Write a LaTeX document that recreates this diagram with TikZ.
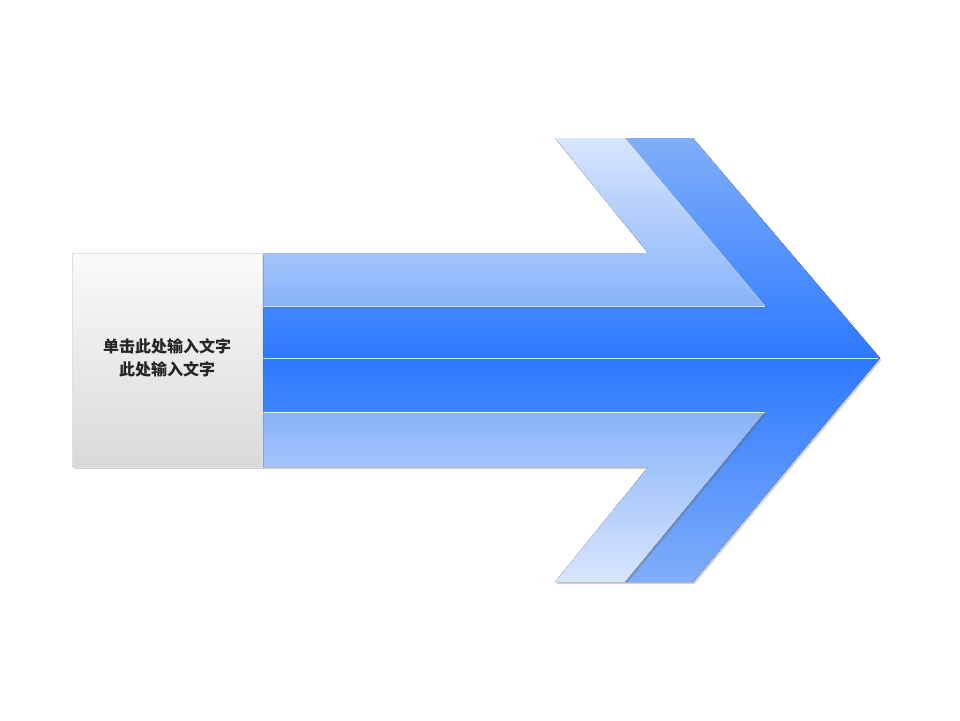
\documentclass[tikz,border=0pt]{standalone}
\usepackage{fontspec}
\newfontfamily\cjk{Noto Sans CJK SC}
\usetikzlibrary{shadows}
\definecolor{midblue}{HTML}{2C79FF}
\definecolor{edgeblue}{HTML}{80AEF8}
\definecolor{lightA}{HTML}{D8E6FD}
\definecolor{lightB}{HTML}{88B3F9}
\definecolor{grayA}{HTML}{FAFAFA}
\definecolor{grayB}{HTML}{D9D9D9}
\tikzset{
  x=1pt,y=-1pt,
  shadowed/.style={drop shadow={shadow xshift=1.5pt,shadow yshift=-2pt,opacity=0.3,fill=black!60}},
  hl/.style={draw=white,line width=0.7pt,opacity=0.8},
}
\begin{document}
\begin{tikzpicture}
\useasboundingbox (0,0) rectangle (960,720);
% dark back arrow
\fill[top color=edgeblue,bottom color=edgeblue,middle color=midblue,shadowed]
  (262,306) -- (765,306) -- (625,138) -- (693,138) -- (880,358) -- (693,582) -- (625,582) -- (765,412) -- (262,412) -- cycle;
\draw[hl] (262,358) -- (878,358);
% upper light part
\fill[top color=lightA,bottom color=lightB,shadowed]
  (262,253) -- (648,253) -- (555,138) -- (625,138) -- (765,306) -- (262,306) -- cycle;
\draw[hl] (765,306) -- (262,306);
\draw[white,opacity=0.6,line width=0.5pt] (625,138) -- (765,306);
% lower light part
\fill[top color=lightB,bottom color=lightA,shadowed]
  (262,412) -- (765,412) -- (625,582) -- (555,582) -- (648,467) -- (262,467) -- cycle;
\draw[hl] (262,412) -- (765,412);
% gray box
\node[draw=black!12,line width=0.4pt,top color=grayA,bottom color=grayB,minimum width=190pt,minimum height=214pt,inner sep=0pt,anchor=north west,shadowed] (box) at (72,253) {};
\node[font=\cjk\bfseries\fontsize{16pt}{23pt}\selectfont,align=center,text=black!85] (label) at (167,358) {单击此处输入文字\\此处输入文字};
\end{tikzpicture}
\end{document}
